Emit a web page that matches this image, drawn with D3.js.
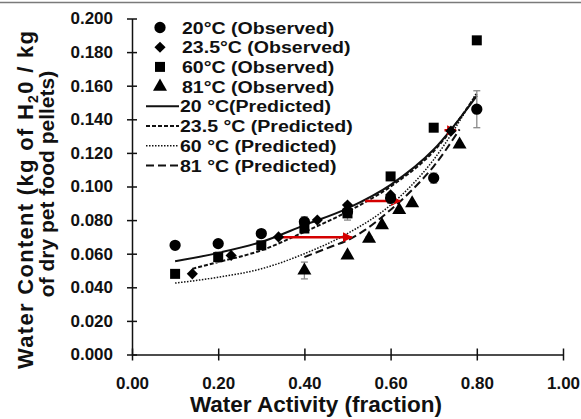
<!doctype html>
<html lang="en">
<head>
<meta charset="utf-8">
<title>Water content vs water activity</title>
<style>
body { margin: 0; background: #fff; }
svg { display: block; font-family: "Liberation Sans", Arial, Helvetica, sans-serif; font-weight: bold; }
</style>
</head>
<body>
<div id="chart"></div>
<script src="https://cdnjs.cloudflare.com/ajax/libs/d3/7.8.5/d3.min.js"></script>
<script>
// observed points (water activity, water content, error)
var aw20 = [0.10, 0.20, 0.30, 0.40, 0.50, 0.60, 0.70, 0.80];
var wc20 = [0.065, 0.066, 0.072, 0.079, 0.085, 0.093, 0.105, 0.146];
var err20 = [0.001, 0.002, 0.002, 0.003, 0.005, 0.003, 0.003, 0.011];

var aw23 = [0.14, 0.23, 0.34, 0.43, 0.50, 0.60, 0.74];
var wc23 = [0.048, 0.059, 0.070, 0.080, 0.089, 0.095, 0.133];

var aw60 = [0.10, 0.20, 0.30, 0.40, 0.50, 0.60, 0.70, 0.80];
var wc60 = [0.048, 0.058, 0.065, 0.075, 0.084, 0.106, 0.135, 0.187];
var err60 = [0.001, 0.003, 0.002, 0.002, 0.002, 0.002, 0.002, 0.002];

var aw81 = [0.40, 0.50, 0.55, 0.58, 0.62, 0.65, 0.76];
var wc81 = [0.050, 0.059, 0.069, 0.077, 0.086, 0.090, 0.125];
var err81 = [0.005, 0.001, 0.001, 0.001, 0.001, 0.001, 0.001];

// predicted curves
var awP = [0.10, 0.20, 0.30, 0.40, 0.50, 0.60, 0.70, 0.80];
var pred20 = [0.0555, 0.0605, 0.067, 0.077, 0.087, 0.101, 0.122, 0.154];
var awP23 = [0.14, 0.20, 0.30, 0.40, 0.50, 0.60, 0.70, 0.80];
var pred23 = [0.051, 0.055, 0.062, 0.073, 0.085, 0.100, 0.121, 0.155];
var pred60 = [0.0425, 0.046, 0.051, 0.060, 0.072, 0.089, 0.116, 0.156];
var awP81 = [0.40, 0.46, 0.50, 0.54, 0.59, 0.65, 0.70, 0.76];
var pred81 = [0.058, 0.064, 0.068, 0.074, 0.084, 0.098, 0.112, 0.134];

// red shift arrows
var arrowFrom = [0.347, 0.541, 0.725];
var arrowTo = [0.51, 0.622, 0.752];
var arrowAt = [0.0698, 0.0914, 0.1335];

var xTicks = [0, 0.2, 0.4, 0.6, 0.8, 1.0];
var yTicks = [0, 0.02, 0.04, 0.06, 0.08, 0.10, 0.12, 0.14, 0.16, 0.18, 0.20];

var legendLabels = ["20°C (Observed)", "23.5°C (Observed)", "60°C (Observed)", "81°C (Observed)",
    "20 °C(Predicted)", "23.5 °C (Predicted)", "60 °C (Predicted)", "81 °C (Predicted)"];

var width = 581, height = 419;
var margin = {left: 132, right: 18, top: 18.5, bottom: 64.5};

var svg = d3.select("#chart").append("svg")
    .attr("width", width)
    .attr("height", height);

// thin grey rule at the very top
svg.append("line")
    .attr("x1", 0).attr("x2", width)
    .attr("y1", 2.5).attr("y2", 2.5)
    .style("stroke", "#7a7a7a")
    .style("stroke-width", 1.5);

var x = d3.scaleLinear().domain([0, 1]).range([margin.left, width - margin.right]);
var y = d3.scaleLinear().domain([0, 0.2]).range([height - margin.bottom, margin.top]);

// axes
var yAxis = svg.append("g")
    .attr("transform", "translate(" + x(0) + ",0)")
    .call(d3.axisLeft(y).tickValues(yTicks).tickFormat(d3.format(".3f")).tickSizeInner(5).tickSizeOuter(0).tickPadding(14));
yAxis.selectAll(".tick line").attr("x1", 5);

var xAxis = svg.append("g")
    .attr("transform", "translate(0," + y(0) + ")")
    .call(d3.axisBottom(x).tickValues(xTicks).tickFormat(d3.format(".2f")).tickSizeInner(6).tickSizeOuter(0).tickPadding(16));
xAxis.selectAll(".tick line").attr("y1", -6);

svg.selectAll(".domain, .tick line").style("stroke", "#111").style("stroke-width", 1.5);
yAxis.selectAll("text").style("font-size", "17px").style("font-weight", "bold").style("fill", "#111");
xAxis.selectAll("text").style("font-size", "17px").style("font-weight", "bold").style("fill", "#111");

// axis titles
svg.append("text")
    .attr("x", 316)
    .attr("y", 412)
    .attr("text-anchor", "middle")
    .style("font-size", "22.5px")
    .style("fill", "#111")
    .text("Water Activity (fraction)");

var yt1 = svg.append("text")
    .attr("transform", "translate(33,200) rotate(-90)")
    .attr("text-anchor", "middle")
    .attr("textLength", 338)
    .attr("lengthAdjust", "spacing")
    .style("font-size", "22px")
    .style("fill", "#111");
yt1.append("tspan").text("Water Content (kg of H");
yt1.append("tspan").attr("dy", 5).style("font-size", "14px").text("2");
yt1.append("tspan").attr("dy", -5).text("0 / kg");

svg.append("text")
    .attr("transform", "translate(54,184) rotate(-90)")
    .attr("text-anchor", "middle")
    .style("font-size", "21px")
    .style("fill", "#111")
    .text("of dry pet food pellets)");

// predicted curves
var line = d3.line()
    .x(function(d) { return x(d[0]); })
    .y(function(d) { return y(d[1]); })
    .curve(d3.curveMonotoneX);

var curves = [
    {aw: awP, wc: pred20, dash: null, w: 2},
    {aw: awP23, wc: pred23, dash: "4,2", w: 2},
    {aw: awP, wc: pred60, dash: "1.5,1.5", w: 1.5},
    {aw: awP81, wc: pred81, dash: "8,4", w: 2}
];
curves.forEach(function(c) {
    svg.append("path")
        .datum(d3.zip(c.aw, c.wc))
        .attr("d", line)
        .style("fill", "none")
        .style("stroke", "#111")
        .style("stroke-width", c.w)
        .style("stroke-dasharray", c.dash);
});

// red arrows
svg.append("defs").append("marker")
    .attr("id", "head")
    .attr("viewBox", "0 0 10 10")
    .attr("refX", 9).attr("refY", 5)
    .attr("markerWidth", 4).attr("markerHeight", 4)
    .attr("orient", "auto")
    .append("path")
    .attr("d", "M0,0L10,5L0,10Z")
    .style("fill", "#d40000");

arrowFrom.forEach(function(a, i) {
    svg.append("line")
        .attr("x1", x(a)).attr("x2", x(arrowTo[i]))
        .attr("y1", y(arrowAt[i])).attr("y2", y(arrowAt[i]))
        .style("stroke", "#d40000")
        .style("stroke-width", 2.5)
        .attr("marker-end", "url(#head)");
});

// observed series (diamond = square turned 45 degrees)
var series = [
    {aw: aw20, wc: wc20, err: err20, sym: d3.symbolCircle, size: 100, rot: 0},
    {aw: aw23, wc: wc23, err: null, sym: d3.symbolSquare, size: 62, rot: 45},
    {aw: aw60, wc: wc60, err: err60, sym: d3.symbolSquare, size: 100, rot: 0},
    {aw: aw81, wc: wc81, err: err81, sym: d3.symbolTriangle, size: 85, rot: 0}
];

series.forEach(function(s) {
    if (!s.err) return;
    var g = svg.append("g").style("stroke", "#8a8a8a").style("stroke-width", 1.3);
    s.aw.forEach(function(a, i) {
        var lo = y(s.wc[i] - s.err[i]), hi = y(s.wc[i] + s.err[i]);
        g.append("line").attr("x1", x(a)).attr("x2", x(a)).attr("y1", lo).attr("y2", hi);
        g.append("line").attr("x1", x(a) - 3.5).attr("x2", x(a) + 3.5).attr("y1", lo).attr("y2", lo);
        g.append("line").attr("x1", x(a) - 3.5).attr("x2", x(a) + 3.5).attr("y1", hi).attr("y2", hi);
    });
});

series.forEach(function(s) {
    svg.append("g").selectAll("path")
        .data(d3.zip(s.aw, s.wc))
        .enter().append("path")
        .attr("transform", function(d) { return "translate(" + x(d[0]) + "," + y(d[1]) + ") rotate(" + s.rot + ")"; })
        .attr("d", d3.symbol().type(s.sym).size(s.size))
        .style("fill", "#000");
});

// legend (text is a little wide in the original, so stretch it slightly)
var leg = svg.append("g");
legendLabels.forEach(function(t, i) {
    var cy = 27.5 + i * 19.7;
    if (i < 4) {
        var s = series[i];
        leg.append("path")
            .attr("transform", "translate(160," + cy + ") rotate(" + s.rot + ")")
            .attr("d", d3.symbol().type(s.sym).size(s.size))
            .style("fill", "#000");
    } else {
        var c = curves[i - 4];
        leg.append("line")
            .attr("x1", 146).attr("x2", 179)
            .attr("y1", cy).attr("y2", cy)
            .style("stroke", "#111")
            .style("stroke-width", c.w)
            .style("stroke-dasharray", c.dash);
    }
    leg.append("text")
        .attr("transform", "translate(" + (i < 4 ? 182 : 180) + "," + cy + ") scale(1.15,1)")
        .attr("dy", "0.36em")
        .style("font-size", "17px")
        .style("fill", "#111")
        .text(t);
});
</script>
</body>
</html>
